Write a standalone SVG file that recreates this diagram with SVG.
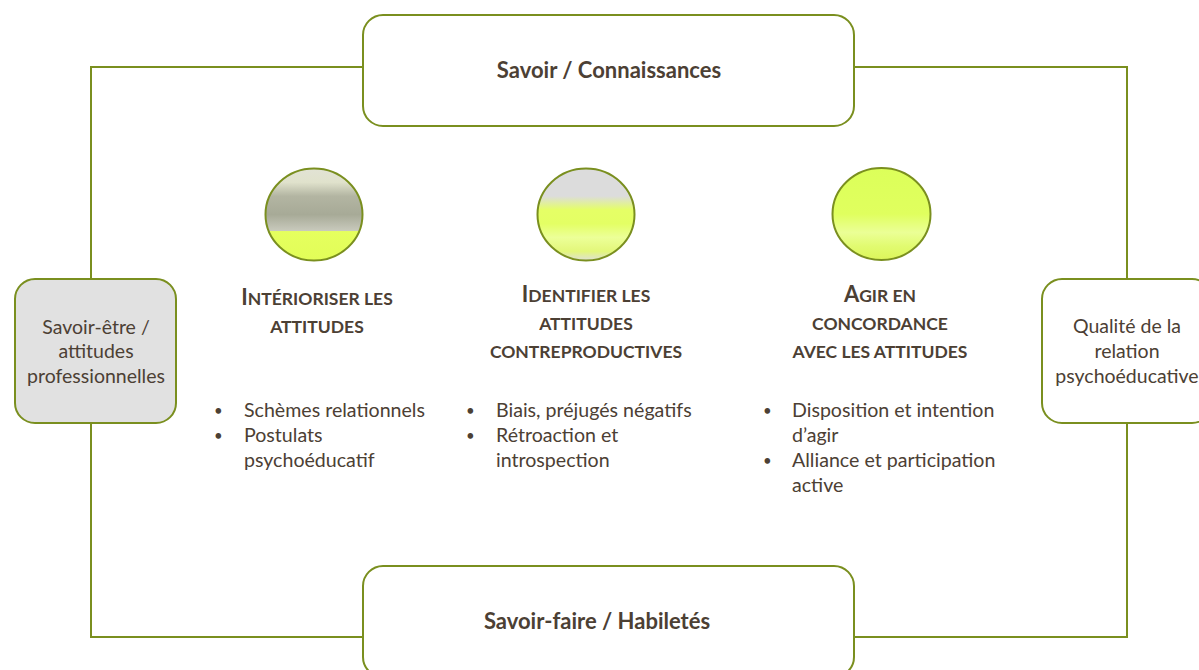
<svg xmlns="http://www.w3.org/2000/svg" width="1199" height="670" viewBox="0 0 1199 670">
<style>
.box{fill:#fff;stroke:#7a8f1f;stroke-width:2}
.grey{fill:#e1e1e1}
.line{fill:none;stroke:#7a8f1f;stroke-width:2}
.circ{stroke:#7a8f1f;stroke-width:2}
text{font-family:Lato,"Open Sans","Liberation Sans",sans-serif;fill:#4c4034}
.lbl{font-size:22px;font-weight:bold;text-anchor:middle}
.side{font-size:19.5px;text-anchor:middle}
.hd{font-size:17.5px;font-weight:bold;text-anchor:middle}
.cap{font-size:22px}
.bl{font-size:19.6px}
.dot{font-size:15px}
</style>
<defs>
<linearGradient id="g1" x1="0" y1="0" x2="0" y2="1">
<stop offset="0" stop-color="#e2e3d5"/>
<stop offset="0.15" stop-color="#e0e2cc"/>
<stop offset="0.3" stop-color="#b3b5a2"/>
<stop offset="0.5" stop-color="#a7aa97"/>
<stop offset="0.68" stop-color="#c9cabd"/>
<stop offset="0.685" stop-color="#e5ff5e"/>
<stop offset="1" stop-color="#e2fd58"/>
</linearGradient>
<linearGradient id="g2" x1="0" y1="0" x2="0" y2="1">
<stop offset="0" stop-color="#dcdcdc"/>
<stop offset="0.3" stop-color="#dcdcdc"/>
<stop offset="0.45" stop-color="#e5ff66"/>
<stop offset="0.6" stop-color="#e4ff64"/>
<stop offset="0.75" stop-color="#ecff98"/>
<stop offset="0.9" stop-color="#e3f77a"/>
<stop offset="1" stop-color="#dedfd6"/>
</linearGradient>
<linearGradient id="g3" x1="0" y1="0" x2="0" y2="1">
<stop offset="0" stop-color="#dcff5a"/>
<stop offset="0.5" stop-color="#e0ff5e"/>
<stop offset="0.7" stop-color="#ebff96"/>
<stop offset="0.85" stop-color="#e1fb70"/>
<stop offset="1" stop-color="#dcf55a"/>
</linearGradient>
</defs>
<rect width="1199" height="670" fill="#fff"/>
<g id="connectors">
<rect class="line" x="91" y="67" width="1036" height="570"/>
</g>
<g id="savoir">
<rect class="box" x="363" y="15" width="491" height="111" rx="20"/>
<text class="lbl" x="609" y="78">Savoir / Connaissances</text>
</g>
<g id="savoir-faire">
<rect class="box" x="363" y="566" width="491" height="111" rx="20"/>
<text class="lbl" x="597" y="629">Savoir-faire / Habiletés</text>
</g>
<g id="savoir-etre">
<rect class="box grey" x="15" y="279" width="161" height="144" rx="20"/>
<text class="side" x="96" y="334">Savoir-être /</text>
<text class="side" x="96" y="358">attitudes</text>
<text class="side" x="96" y="383">professionnelles</text>
</g>
<g id="qualite">
<rect class="box" x="1042" y="279" width="170" height="144" rx="20"/>
<text class="side" x="1127" y="333">Qualité de la</text>
<text class="side" x="1127" y="358">relation</text>
<text class="side" x="1127" y="383">psychoéducative</text>
</g>
<g id="interioriser">
<ellipse class="circ" cx="314" cy="214.5" rx="48.5" ry="46" fill="url(#g1)"/>
<text class="hd" x="317" y="305"><tspan class="cap">I</tspan>NTÉRIORISER LES</text>
<text class="hd" x="317" y="333">ATTITUDES</text>
<text class="dot" x="214" y="416">•</text>
<text class="bl" x="244" y="417">Schèmes relationnels</text>
<text class="dot" x="214" y="441">•</text>
<text class="bl" x="244" y="442">Postulats</text>
<text class="bl" x="244" y="467">psychoéducatif</text>
</g>
<g id="identifier">
<ellipse class="circ" cx="586" cy="214.5" rx="48.5" ry="46" fill="url(#g2)"/>
<text class="hd" x="586" y="302"><tspan class="cap">I</tspan>DENTIFIER LES</text>
<text class="hd" x="586" y="330">ATTITUDES</text>
<text class="hd" x="586" y="358">CONTREPRODUCTIVES</text>
<text class="dot" x="466" y="416">•</text>
<text class="bl" x="496" y="417">Biais, préjugés négatifs</text>
<text class="dot" x="466" y="441">•</text>
<text class="bl" x="496" y="442">Rétroaction et</text>
<text class="bl" x="496" y="467">introspection</text>
</g>
<g id="agir">
<ellipse class="circ" cx="881.5" cy="214" rx="49" ry="46" fill="url(#g3)"/>
<text class="hd" x="880" y="302"><tspan class="cap">A</tspan>GIR EN</text>
<text class="hd" x="880" y="330">CONCORDANCE</text>
<text class="hd" x="880" y="358">AVEC LES ATTITUDES</text>
<text class="dot" x="763" y="416">•</text>
<text class="bl" x="792" y="417">Disposition et intention</text>
<text class="bl" x="792" y="442">d’agir</text>
<text class="dot" x="763" y="466">•</text>
<text class="bl" x="792" y="467">Alliance et participation</text>
<text class="bl" x="792" y="492">active</text>
</g>
</svg>
